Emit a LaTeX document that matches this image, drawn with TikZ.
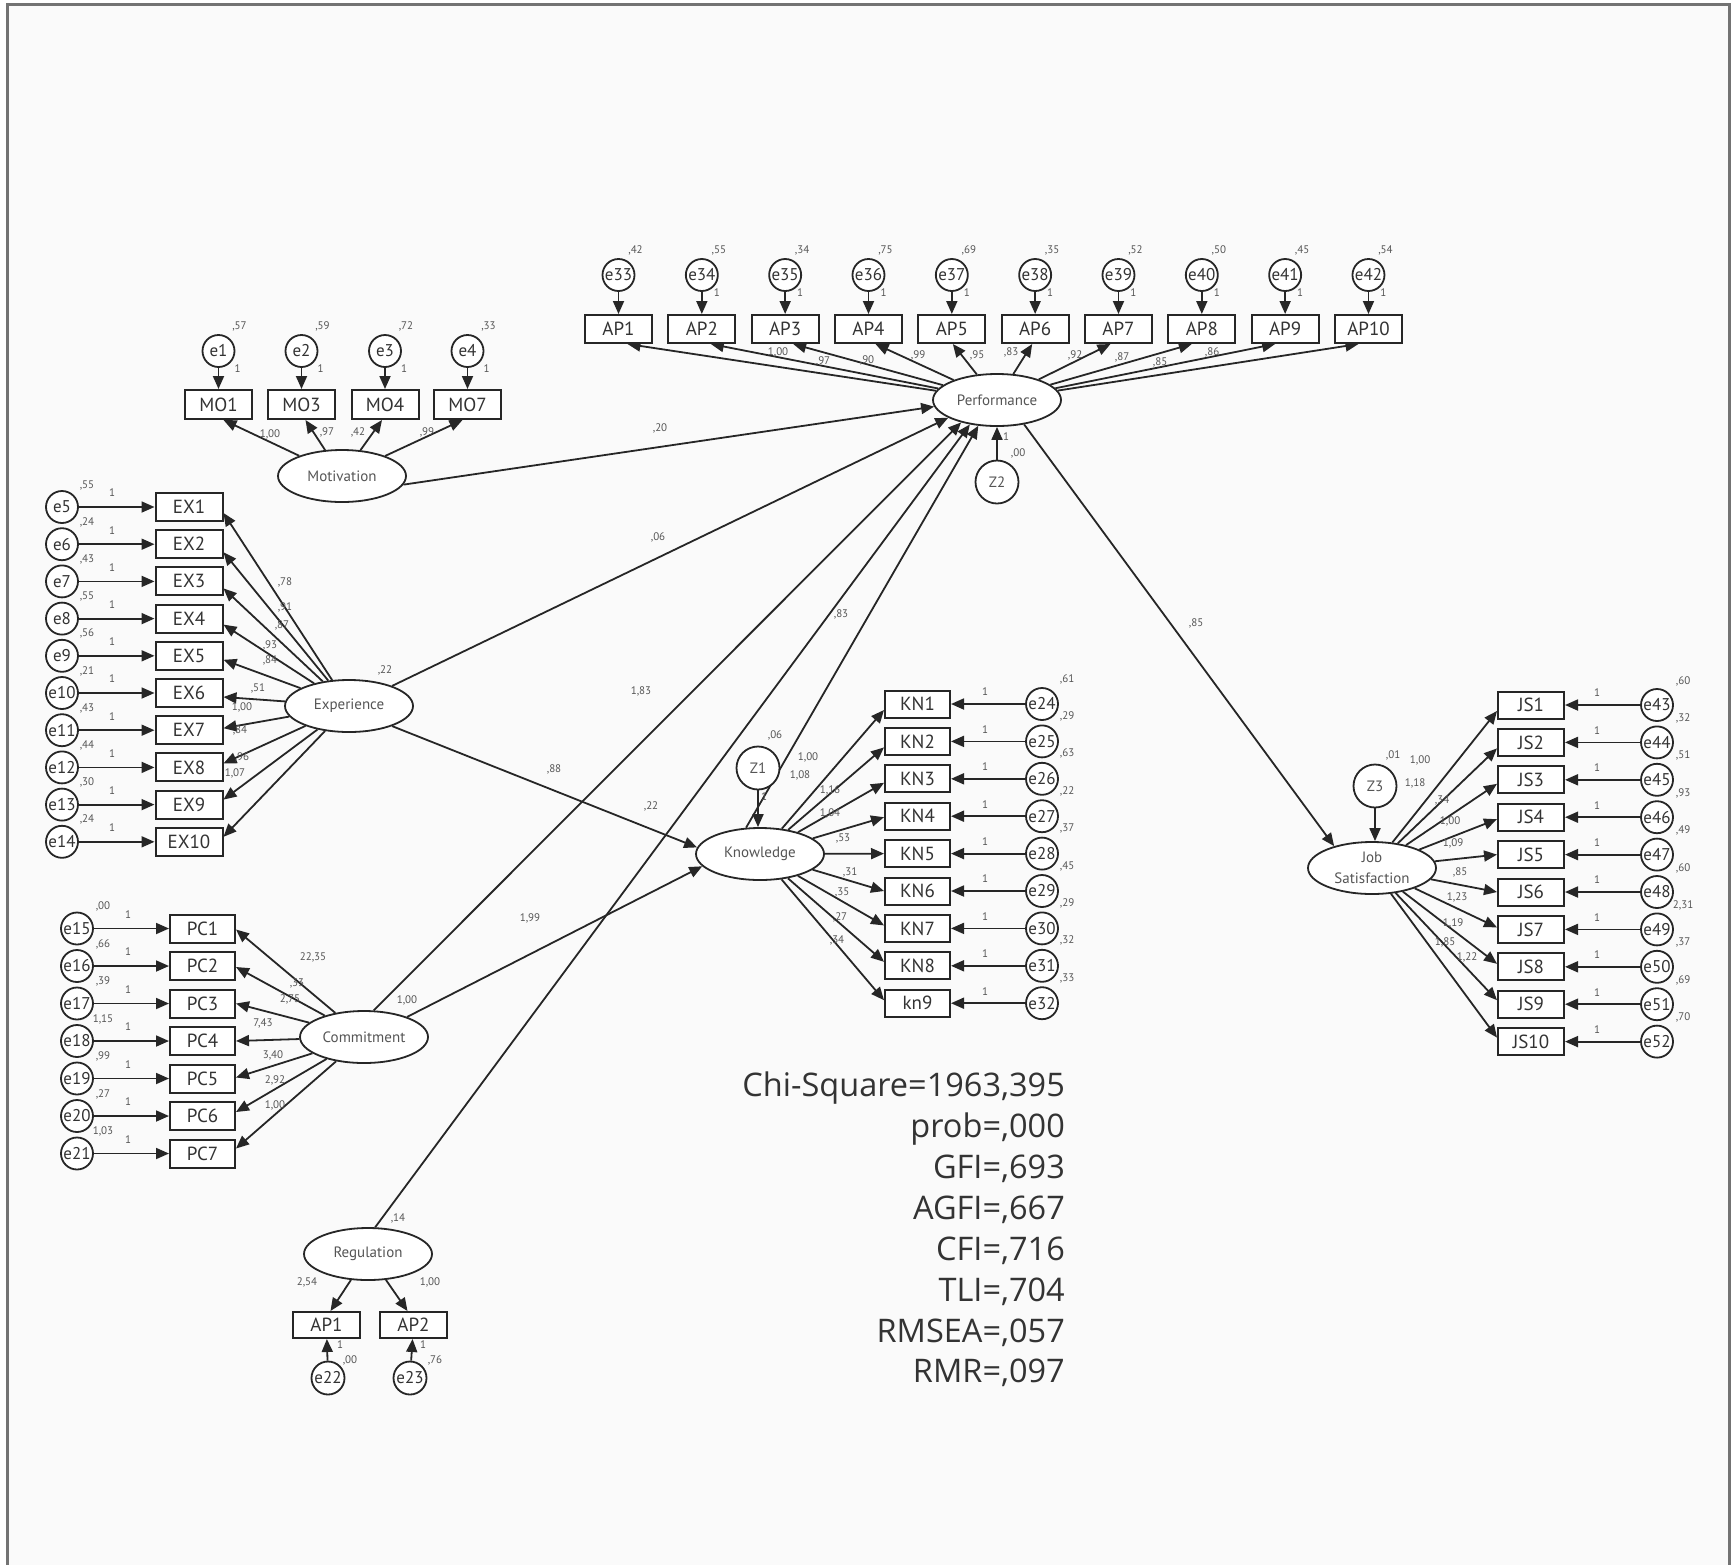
\documentclass[tikz,border=0pt]{standalone}
\usepackage{fontspec}
\setmainfont{PT Sans}
\newfontfamily\statfont{Open Sans}
\usetikzlibrary{shapes.geometric,arrows.meta}
\pgfdeclarelayer{edges}
\pgfsetlayers{edges,main}
\definecolor{txt}{HTML}{333333}
\definecolor{lab}{HTML}{555555}
\tikzset{
  obs/.style={draw=black!85, line width=2pt, minimum width=67pt, minimum height=28pt, inner sep=0pt, fill=white, text=txt, font=\fontsize{19}{19}\selectfont},
  err/.style={circle, draw=black!85, line width=1.8pt, minimum size=32pt, inner sep=0pt, fill=white, text=txt, font=\fontsize{17}{17}\selectfont},
  dist/.style={circle, draw=black!85, line width=1.8pt, minimum size=43pt, inner sep=0pt, fill=white, text=lab, font=\fontsize{15}{15}\selectfont},
  lat/.style={ellipse, draw=black!85, line width=1.8pt, minimum width=128pt, minimum height=52pt, inner sep=0pt, fill=white, text=lab, font=\fontsize{15}{15}\selectfont},
  lbl/.style={inner sep=0pt, text=lab, font=\fontsize{11}{11}\selectfont},
  arr/.style={draw=black!85, line width=1.8pt, -{Triangle[length=13pt,width=11pt]}},
  stat/.style={anchor=east, inner sep=0pt, text=txt, font=\statfont\fontsize{32.5}{32.5}\selectfont},
}
\begin{document}
\begin{tikzpicture}[x=1pt,y=-1pt]
\useasboundingbox (0,0) rectangle (1731,1564);
\begin{pgfonlayer}{edges}
\fill[white] (0,0) rectangle (1731,1564);
\draw[fill=black!2, draw=black!55, line width=3pt] (7,4) rectangle (1729,1590);
\end{pgfonlayer}

% ---------------- latent variables ----------------
\node[lat] (perf) at (997,400) {Performance};
\node[dist] (z2) at (997,482) {Z2};
\node[lat] (mot) at (342,476) {Motivation};
\node[lat] (exp) at (349,706) {Experience};
\node[lat] (com) at (364,1037) {Commitment};
\node[lat] (reg) at (368,1254) {Regulation};
\node[lat] (know) at (760,854) {Knowledge};
\node[dist] (z1) at (758,768) {Z1};
\node[lat, align=center, font=\fontsize{15}{21}\selectfont] (js) at (1372,868) {Job\\Satisfaction};
\node[dist] (z3) at (1375,786) {Z3};

% ---------------- Performance indicators ----------------
\foreach \i/\v/\s [evaluate=\i as \x using 618.5+(\i-1)*83.33, evaluate=\i as \e using int(\i+32)] in
  {1/{,42}/9, 2/{,55}/9, 3/{,34}/8, 4/{,75}/7, 5/{,69}/1, 6/{,35}/-3, 7/{,52}/-8, 8/{,50}/-10, 9/{,45}/-10, 10/{,54}/-10} {
  \node[obs] (ap\i) at (\x,329) {AP\i};
  \node[err] (e\e) at (\x,275) {e\e};
  \node[lbl] at (\x+17,250) {\v};
  \ifnum\i>1 \node[lbl] at (\x+15,293) {1};\fi
  \begin{pgfonlayer}{edges}
    \draw[arr] (e\e) -- (ap\i);
    \draw[arr] (perf) -- ([xshift=\s pt]ap\i.south);
  \end{pgfonlayer}
}
\node[lbl] at (778,352) {1,00};
\node[lbl] at (823,361) {,97};
\node[lbl] at (867,360) {,90};
\node[lbl] at (918,355) {,99};
\node[lbl] at (977,355) {,95};
\node[lbl] at (1011,352) {,83};
\node[lbl] at (1075,355) {,92};
\node[lbl] at (1122,357) {,87};
\node[lbl] at (1160,362) {,85};
\node[lbl] at (1212,352) {,86};
\node[lbl] at (1006,437) {1};
\node[lbl] at (1018,453) {,00};

% ---------------- Motivation indicators ----------------
\foreach \i/\n/\x/\v/\s in {1/MO1/218.5/{,57}/5, 2/MO3/301.5/{,59}/4, 3/MO4/385/{,72}/-3, 4/MO7/467.5/{,33}/-5} {
  \node[obs, minimum height=29pt] (mo\i) at (\x,404.5) {\n};
  \node[err] (e\i) at (\x,351) {e\i};
  \node[lbl] at (\x+21,326) {\v};
  \node[lbl] at (\x+19,369) {1};
  \begin{pgfonlayer}{edges}
    \draw[arr] (e\i) -- (mo\i);
    \draw[arr] (mot) -- ([xshift=\s pt]mo\i.south);
  \end{pgfonlayer}
}
\node[lbl] at (270,434) {1,00};
\node[lbl] at (327,432) {,97};
\node[lbl] at (358,432) {,42};
\node[lbl] at (427,432) {,99};

% ---------------- Experience indicators ----------------
\foreach \i/\v/\s [evaluate=\i as \y using 507+(\i-1)*37.2, evaluate=\i as \e using int(\i+4)] in
  {1/{,55}/-6, 2/{,24}/-8, 3/{,43}/-7, 4/{,55}/-6, 5/{,56}/-4, 6/{,21}/-4, 7/{,43}/2, 8/{,44}/4, 9/{,30}/5, 10/{,24}/5} {
  \node[obs] (ex\i) at (189,\y) {EX\i};
  \node[err] (e\e) at (62,\y) {e\e};
  \node[lbl] at (87,\y-22) {\v};
  \node[lbl] at (112,\y-14) {1};
  \begin{pgfonlayer}{edges}
    \draw[arr] (e\e) -- (ex\i);
    \draw[arr] (exp) -- ([yshift=\s pt]ex\i.east);
  \end{pgfonlayer}
}
\node[lbl] at (385,670) {,22};
\node[lbl] at (285,582) {,78};
\node[lbl] at (285,607) {,91};
\node[lbl] at (282,625) {,87};
\node[lbl] at (270,645) {,93};
\node[lbl] at (270,660) {,84};
\node[lbl] at (258,688) {,51};
\node[lbl] at (242,707) {1,00};
\node[lbl] at (240,730) {,84};
\node[lbl] at (242,757) {,96};
\node[lbl] at (235,773) {1,07};

% ---------------- Commitment indicators ----------------
\foreach \i/\v/\s [evaluate=\i as \y using 928.5+(\i-1)*37.5, evaluate=\i as \e using int(\i+14)] in
  {1/{,00}/-1, 2/{,66}/-1, 3/{,39}/0, 4/{1,15}/0, 5/{,99}/1, 6/{,27}/4, 7/{1,03}/5} {
  \node[obs, minimum width=65pt] (pc\i) at (202.5,\y) {PC\i};
  \node[err] (e\e) at (77,\y) {e\e};
  \node[lbl] at (103,\y-22) {\v};
  \node[lbl] at (128,\y-14) {1};
  \begin{pgfonlayer}{edges}
    \draw[arr] (e\e) -- (pc\i);
    \draw[arr] (com) -- ([yshift=\s pt]pc\i.east);
  \end{pgfonlayer}
}
\node[lbl] at (407,1000) {1,00};
\node[lbl] at (313,957) {22,35};
\node[lbl] at (297,983) {,33};
\node[lbl] at (290,999) {2,75};
\node[lbl] at (263,1023) {7,43};
\node[lbl] at (273,1055) {3,40};
\node[lbl] at (275,1080) {2,92};
\node[lbl] at (275,1105) {1,00};

% ---------------- Regulation indicators ----------------
\node[obs, minimum height=26pt] (rap1) at (326.5,1325) {AP1};
\node[obs, minimum height=26pt] (rap2) at (413.5,1325) {AP2};
\node[err, minimum size=33pt] (e22) at (328,1378) {e22};
\node[err, minimum size=33pt] (e23) at (410,1378) {e23};
\node[lbl] at (398,1218) {,14};
\node[lbl] at (307,1282) {2,54};
\node[lbl] at (430,1282) {1,00};
\node[lbl] at (340,1345) {1};
\node[lbl] at (350,1360) {,00};
\node[lbl] at (423,1345) {1};
\node[lbl] at (435,1360) {,76};

% ---------------- Knowledge indicators ----------------
\foreach \i/\n/\v/\s [evaluate=\i as \y using 704+(\i-1)*37.4, evaluate=\i as \e using int(\i+23)] in
  {1/KN1/{,61}/-6, 2/KN2/{,29}/-6, 3/KN3/{,63}/-4, 4/KN4/{,22}/-1, 5/KN5/{,37}/0, 6/KN6/{,45}/0, 7/KN7/{,29}/3, 8/KN8/{,32}/4, 9/kn9/{,33}/3} {
  \node[obs, minimum width=65pt, minimum height=27pt] (kn\i) at (917.5,\y) {\n};
  \node[err] (e\e) at (1042,\y) {e\e};
  \node[lbl] at (1067,\y-25) {\v};
  \node[lbl] at (985,\y-12) {1};
  \begin{pgfonlayer}{edges}
    \draw[arr] (e\e) -- (kn\i);
    \draw[arr] (know) -- ([yshift=\s pt]kn\i.west);
  \end{pgfonlayer}
}
\node[lbl] at (775,735) {,06};
\node[lbl] at (764,797) {1};
\node[lbl] at (808,757) {1,00};
\node[lbl] at (800,775) {1,08};
\node[lbl] at (830,790) {1,16};
\node[lbl] at (830,813) {1,04};
\node[lbl] at (843,838) {,53};
\node[lbl] at (850,872) {,31};
\node[lbl] at (842,892) {,35};
\node[lbl] at (840,917) {,27};
\node[lbl] at (837,940) {,34};

% ---------------- Job Satisfaction indicators ----------------
\foreach \i/\v/\s [evaluate=\i as \y using 705+(\i-1)*37.4, evaluate=\i as \e using int(\i+42)] in
  {1/{,60}/-6, 2/{,32}/-6, 3/{,51}/-4, 4/{,93}/-2, 5/{,49}/0, 6/{,60}/0, 7/{2,31}/2, 8/{,37}/3, 9/{,69}/4, 10/{,70}/4} {
  \node[obs, minimum width=66pt, minimum height=27pt] (js\i) at (1531,\y) {JS\i};
  \node[err] (e\e) at (1657,\y) {e\e};
  \node[lbl] at (1683,\y-24) {\v};
  \node[lbl] at (1597,\y-12) {1};
  \begin{pgfonlayer}{edges}
    \draw[arr] (e\e) -- (js\i);
    \draw[arr] (js) -- ([yshift=\s pt]js\i.west);
  \end{pgfonlayer}
}
\node[lbl] at (1393,755) {,01};
\node[lbl] at (1420,760) {1,00};
\node[lbl] at (1415,783) {1,18};
\node[lbl] at (1442,800) {,34};
\node[lbl] at (1450,821) {1,00};
\node[lbl] at (1453,843) {1,09};
\node[lbl] at (1460,872) {,85};
\node[lbl] at (1457,897) {1,23};
\node[lbl] at (1453,923) {1,19};
\node[lbl] at (1445,942) {1,85};
\node[lbl] at (1467,957) {1,22};

% ---------------- structural paths ----------------
\begin{pgfonlayer}{edges}
\draw[arr] (z2) -- (perf);
\draw[arr] (z1) -- (z1 |- know.north);
\draw[arr] (z3) -- (z3 |- js.north);
\draw[arr] (mot.352) -- (perf.186);
\draw[arr] (exp.25) -- (perf.200);
\draw[arr] (com.70) -- (perf.212);
\draw[arr] (reg.75) -- (perf.222);
\draw[arr] (know.118) -- (perf.234);
\draw[arr] (exp.335) -- (know.174);
\draw[arr] (com.25) -- (know.192);
\draw[arr] (perf.318) -- (js.150);
\draw[arr] (reg) -- ([xshift=4pt]rap1.north);
\draw[arr] (reg) -- ([xshift=-6pt]rap2.north);
\draw[arr] (e22) -- (rap1);
\draw[arr] (e23) -- (rap2);
\end{pgfonlayer}
\node[lbl] at (660,428) {,20};
\node[lbl] at (658,537) {,06};
\node[lbl] at (554,769) {,88};
\node[lbl] at (641,691) {1,83};
\node[lbl] at (651,806) {,22};
\node[lbl] at (841,614) {,83};
\node[lbl] at (530,918) {1,99};
\node[lbl] at (1196,623) {,85};

% ---------------- fit statistics ----------------
\node[stat] (s1) at (1065,1088) {Chi-Square=1963,395};
\node[stat] (s2) at (1065,1129) {prob=,000};
\node[stat] (s3) at (1065,1169) {GFI=,693};
\node[stat] (s4) at (1065,1210) {AGFI=,667};
\node[stat] (s5) at (1065,1251) {CFI=,716};
\node[stat] (s6) at (1065,1292) {TLI=,704};
\node[stat] (s7) at (1065,1333) {RMSEA=,057};
\node[stat] (s8) at (1065,1373) {RMR=,097};
\end{tikzpicture}
\end{document}
